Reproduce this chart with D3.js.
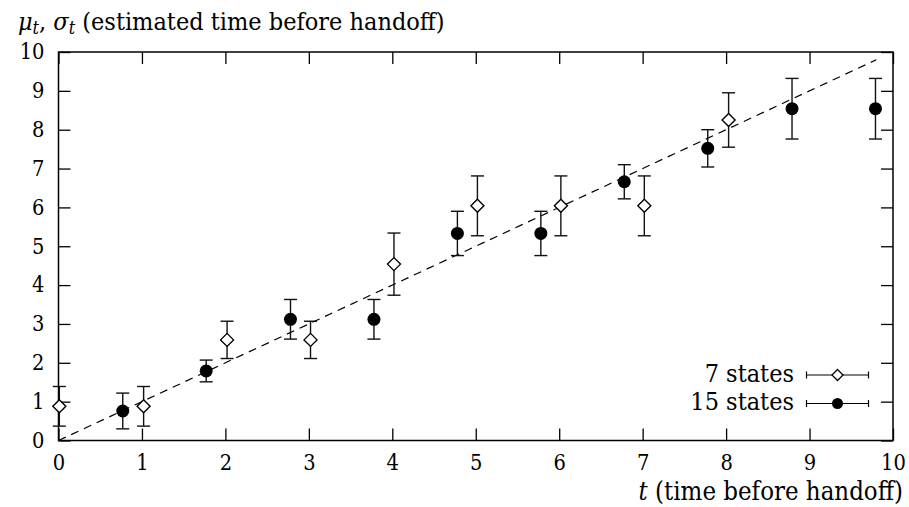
<!DOCTYPE html>
<html><head><meta charset="utf-8">
<script src="https://cdn.jsdelivr.net/npm/d3@7"></script>
<style>body{margin:0;background:#fff}</style>
</head><body><svg id="c" width="909" height="507"></svg>
<script>
// data
const xTicks = [0,1,2,3,4,5,6,7,8,9,10];
const yTicks = [0,1,2,3,4,5,6,7,8,9,10];
const s7_t  = [0.01,1.02,2.02,3.02,4.02,5.02,6.02,7.02,8.03];
const s7_mu = [0.88,0.88,2.59,2.59,4.54,6.04,6.04,6.04,8.25];
const s7_sd = [0.51,0.51,0.48,0.48,0.80,0.77,0.77,0.77,0.70];
const s15_t  = [0.77,1.77,2.78,3.78,4.78,5.78,6.78,7.78,8.79,9.79];
const s15_mu = [0.76,1.79,3.12,3.12,5.33,5.33,6.66,7.52,8.54,8.54];
const s15_sd = [0.46,0.28,0.51,0.51,0.57,0.57,0.44,0.48,0.78,0.78];
const refLine = [0, 9.8];
const legendLabels = ["7 states", "15 states"];

const FONT = "'DejaVu Serif', serif";
const K = 1.1; // vertical stretch of text
const svg = d3.select("#c").attr("font-family", FONT);
const L=58.5, R=893, T=52, B=440.5;
const x = d3.scaleLinear().domain([0,10]).range([L,R]);
const y = d3.scaleLinear().domain([0,10]).range([B,T]);
const fsTick = 19.5, fsText = 22.5;

function stretch(sel){
  sel.each(function(){
    const t=d3.select(this); const yy=+t.attr("y")||0;
    t.attr("transform",`translate(0,${yy*(1-K)}) scale(1,${K})`);
  });
}
function styleAxis(g){
  g.attr("font-family", FONT).attr("font-size", fsTick);
  g.selectAll(".domain").remove();
  g.selectAll(".tick line").attr("stroke","#000").attr("stroke-width",1.3);
  g.selectAll("text").attr("fill","#000").call(stretch);
}
svg.append("g").attr("transform",`translate(0,${B})`)
  .call(d3.axisBottom(x).tickValues(xTicks).tickFormat(d3.format("d")).tickSize(-12).tickPadding(14)).call(styleAxis);
svg.append("g").attr("transform",`translate(0,${T})`)
  .call(d3.axisTop(x).tickValues(xTicks).tickFormat("").tickSize(-12)).call(styleAxis);
svg.append("g").attr("transform",`translate(${L},0)`)
  .call(d3.axisLeft(y).tickValues(yTicks).tickFormat(d3.format("d")).tickSize(-12).tickPadding(14)).call(styleAxis);
svg.append("g").attr("transform",`translate(${R},0)`)
  .call(d3.axisRight(y).tickValues(yTicks).tickFormat("").tickSize(-12)).call(styleAxis);
svg.append("rect").attr("x",L).attr("y",T).attr("width",R-L).attr("height",B-T)
  .attr("fill","none").attr("stroke","#000").attr("stroke-width",1.5);

// reference line
svg.append("line").attr("x1",x(refLine[0])).attr("y1",y(refLine[0]))
  .attr("x2",x(refLine[1])).attr("y2",y(refLine[1]))
  .attr("stroke","#000").attr("stroke-width",1.2).attr("stroke-dasharray","8,6");

function errbars(ts,mus,sds){
  const g = svg.append("g").attr("stroke","#111").attr("stroke-width",1.4);
  ts.forEach((t,i)=>{
    const cx=x(t), y1=y(mus[i]+sds[i]), y0=y(mus[i]-sds[i]);
    g.append("line").attr("x1",cx).attr("x2",cx).attr("y1",y1).attr("y2",y0);
    g.append("line").attr("x1",cx-6.5).attr("x2",cx+6.5).attr("y1",y1).attr("y2",y1);
    g.append("line").attr("x1",cx-6.5).attr("x2",cx+6.5).attr("y1",y0).attr("y2",y0);
  });
}
errbars(s7_t,s7_mu,s7_sd);
errbars(s15_t,s15_mu,s15_sd);
const diamond = r => `M0,${-r}L${r},0L0,${r}L${-r},0Z`;
s7_t.forEach((t,i)=>{
  svg.append("path").attr("d",diamond(6.5)).attr("transform",`translate(${x(t)},${y(s7_mu[i])})`)
    .attr("fill","#fff").attr("stroke","#000").attr("stroke-width",1.4);
});
s15_t.forEach((t,i)=>{
  svg.append("circle").attr("cx",x(t)).attr("cy",y(s15_mu[i])).attr("r",6.5).attr("fill","#000");
});

// legend
const legY=[375,403.5];
legendLabels.forEach((lab,i)=>{
  const ly=legY[i];
  svg.append("text").attr("x",794).attr("y",ly+7).attr("text-anchor","end")
    .attr("font-size",fsText).text(lab).call(stretch);
  const g=svg.append("g").attr("stroke","#000").attr("stroke-width",1.2);
  g.append("line").attr("x1",806.5).attr("x2",868.5).attr("y1",ly).attr("y2",ly);
  g.append("line").attr("x1",806.5).attr("x2",806.5).attr("y1",ly-3.5).attr("y2",ly+3.5);
  g.append("line").attr("x1",868.5).attr("x2",868.5).attr("y1",ly-3.5).attr("y2",ly+3.5);
  if(i===0) svg.append("path").attr("d",diamond(5.5)).attr("transform",`translate(837.5,${ly})`)
    .attr("fill","#fff").attr("stroke","#000").attr("stroke-width",1.3);
  else svg.append("circle").attr("cx",837.5).attr("cy",ly).attr("r",5.5).attr("fill","#000");
});

// titles
const t1 = svg.append("text").attr("x",18).attr("y",30).attr("font-size",fsText);
t1.append("tspan").attr("font-style","italic").text("μ");
t1.append("tspan").attr("font-style","italic").attr("font-size",16).attr("dy",4).text("t");
t1.append("tspan").attr("dy",-4).text(", ");
t1.append("tspan").attr("font-style","italic").text("σ");
t1.append("tspan").attr("font-style","italic").attr("font-size",16).attr("dy",4).text("t");
t1.append("tspan").attr("dy",-4).text(" (estimated time before handoff)");
t1.call(stretch);

const t2 = svg.append("text").attr("x",903).attr("y",500).attr("text-anchor","end").attr("font-size",23);
t2.append("tspan").attr("font-style","italic").text("t");
t2.append("tspan").text(" (time before handoff)");
t2.call(stretch);
</script></body></html>
